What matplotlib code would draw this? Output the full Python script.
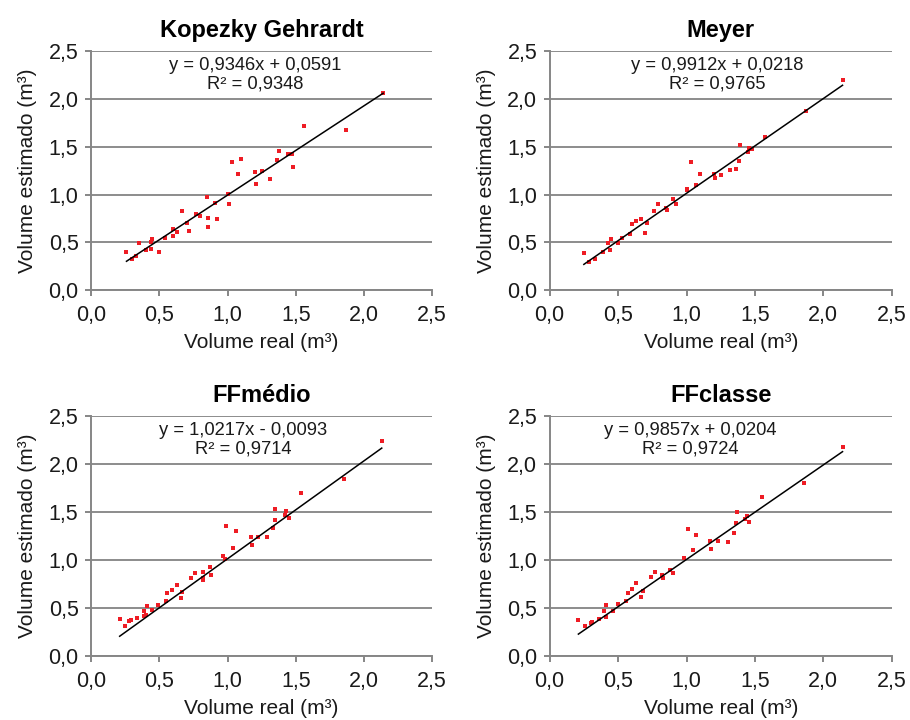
import numpy as np
import matplotlib
matplotlib.use("Agg")
import matplotlib.pyplot as plt

plt.rcParams["font.family"] = ["Liberation Sans", "DejaVu Sans"]

# Kopezky Gehrardt
kg_real = [0.26, 0.30, 0.33, 0.35, 0.40, 0.44, 0.44, 0.45, 0.50, 0.54,
           0.60, 0.60, 0.63, 0.67, 0.70, 0.72, 0.77, 0.80, 0.85, 0.86,
           0.86, 0.91, 0.92, 1.00, 1.01, 1.03, 1.08, 1.10, 1.20, 1.21,
           1.25, 1.31, 1.36, 1.38, 1.44, 1.47, 1.48, 1.56, 1.87, 2.14]
kg_est = [0.40, 0.33, 0.36, 0.49, 0.42, 0.43, 0.50, 0.54, 0.40, 0.55,
          0.64, 0.57, 0.61, 0.83, 0.70, 0.62, 0.80, 0.78, 0.97, 0.75,
          0.66, 0.91, 0.74, 1.01, 0.90, 1.34, 1.21, 1.37, 1.24, 1.11,
          1.25, 1.16, 1.36, 1.46, 1.42, 1.42, 1.29, 1.72, 1.67, 2.06]

# Meyer
me_real = [0.25, 0.29, 0.33, 0.39, 0.43, 0.44, 0.45, 0.50, 0.53, 0.59,
           0.60, 0.63, 0.67, 0.70, 0.71, 0.76, 0.79, 0.85, 0.86, 0.90,
           0.92, 1.00, 1.00, 1.03, 1.07, 1.10, 1.20, 1.21, 1.25, 1.32,
           1.36, 1.38, 1.39, 1.45, 1.46, 1.48, 1.57, 1.87, 2.14]
me_est = [0.385, 0.29, 0.33, 0.40, 0.49, 0.42, 0.53, 0.49, 0.55, 0.59,
          0.69, 0.72, 0.74, 0.60, 0.70, 0.83, 0.90, 0.86, 0.84, 0.95,
          0.90, 1.06, 1.05, 1.34, 1.10, 1.22, 1.22, 1.17, 1.20, 1.26,
          1.27, 1.35, 1.52, 1.44, 1.49, 1.48, 1.60, 1.87, 2.20]

# FFmedio
fm_real = [0.21, 0.25, 0.28, 0.29, 0.34, 0.39, 0.40, 0.39, 0.41, 0.45,
           0.49, 0.55, 0.56, 0.59, 0.63, 0.66, 0.67, 0.73, 0.76, 0.82,
           0.82, 0.82, 0.87, 0.88, 0.97, 0.98, 0.99, 1.04, 1.06, 1.17,
           1.18, 1.22, 1.29, 1.33, 1.35, 1.35, 1.42, 1.43, 1.45, 1.54,
           1.85, 2.13]
fm_est = [0.38, 0.31, 0.36, 0.37, 0.40, 0.42, 0.43, 0.47, 0.52, 0.48,
          0.53, 0.57, 0.66, 0.69, 0.74, 0.60, 0.67, 0.81, 0.86, 0.88,
          0.81, 0.79, 0.93, 0.84, 1.04, 1.01, 1.35, 1.13, 1.30, 1.24,
          1.16, 1.24, 1.24, 1.33, 1.53, 1.42, 1.47, 1.51, 1.44, 1.70,
          1.84, 2.24]

# FFclasse
fc_real = [0.21, 0.26, 0.30, 0.31, 0.36, 0.40, 0.41, 0.41, 0.46, 0.50,
           0.56, 0.57, 0.60, 0.63, 0.67, 0.68, 0.74, 0.77, 0.82, 0.83,
           0.88, 0.90, 0.98, 1.01, 1.05, 1.07, 1.17, 1.18, 1.23, 1.30,
           1.35, 1.36, 1.37, 1.43, 1.44, 1.46, 1.55, 1.86, 2.14]
fc_est = [0.375, 0.31, 0.34, 0.35, 0.385, 0.47, 0.53, 0.41, 0.47, 0.54,
          0.57, 0.66, 0.70, 0.76, 0.61, 0.68, 0.82, 0.875, 0.84, 0.81,
          0.90, 0.86, 1.02, 1.32, 1.10, 1.26, 1.20, 1.12, 1.20, 1.19,
          1.28, 1.39, 1.50, 1.43, 1.46, 1.40, 1.66, 1.80, 2.18]

titles = ["Kopezky Gehrardt", "Meyer", "FFmédio", "FFclasse"]
slopes = [0.9346, 0.9912, 1.0217, 0.9857]
intercepts = [0.0591, 0.0218, -0.0093, 0.0204]
equations = ["y = 0,9346x + 0,0591\nR² = 0,9348",
             "y = 0,9912x + 0,0218\nR² = 0,9765",
             "y = 1,0217x - 0,0093\nR² = 0,9714",
             "y = 0,9857x + 0,0204\nR² = 0,9724"]
eq_xpos = [0.48, 0.49, 0.446, 0.41]

xs = [kg_real, me_real, fm_real, fc_real]
ys = [kg_est, me_est, fm_est, fc_est]

ticks = [0.0, 0.5, 1.0, 1.5, 2.0, 2.5]
tick_labels = ["0,0", "0,5", "1,0", "1,5", "2,0", "2,5"]

fig = plt.figure(figsize=(9.1, 7.2), dpi=100)
# axes rectangles [left, bottom, width, height]
rects = [[0.100, 0.597, 0.375, 0.332],
         [0.604, 0.597, 0.376, 0.332],
         [0.100, 0.089, 0.375, 0.333],
         [0.604, 0.089, 0.376, 0.333]]

grey = "#868686"
for i in range(4):
    ax = fig.add_axes(rects[i])
    x = np.array(xs[i])
    y = np.array(ys[i])
    ax.plot(x, y, "s", color="#ee1c24", markersize=2.6, markeredgewidth=0,
            zorder=3)
    line_x = np.array([x.min(), x.max()])
    ax.plot(line_x, slopes[i] * line_x + intercepts[i], color="black",
            linewidth=1.1, zorder=4)
    ax.set_xlim(0, 2.5)
    ax.set_ylim(0, 2.5)
    ax.set_xticks(ticks)
    ax.set_xticklabels(tick_labels)
    ax.set_yticks(ticks)
    ax.set_yticklabels(tick_labels)
    ax.yaxis.grid(True, color="#8c8c8c", linewidth=1.4)
    ax.set_axisbelow(True)
    for s in ["top", "right"]:
        ax.spines[s].set_visible(False)
    for s in ["left", "bottom"]:
        ax.spines[s].set_color(grey)
        ax.spines[s].set_linewidth(1.4)
    ax.tick_params(axis="both", direction="out", length=4, width=1.4,
                   color=grey, labelsize=15.5, labelcolor="#1a1a1a")
    ax.tick_params(axis="x", pad=7)
    ax.tick_params(axis="y", pad=5)
    ax.set_xlabel("Volume real (m³)", fontsize=15, color="#1a1a1a",
                  labelpad=5)
    ax.set_ylabel("Volume estimado (m³)", fontsize=15, color="#1a1a1a",
                  labelpad=8)
    ax.set_title(titles[i], fontsize=17, fontweight="bold", pad=10)
    ax.text(eq_xpos[i], 0.9, equations[i], transform=ax.transAxes,
            ha="center", va="center", multialignment="center",
            fontsize=13.2, linespacing=1.1, color="#1a1a1a")

fig.savefig("out.png", dpi=100)
